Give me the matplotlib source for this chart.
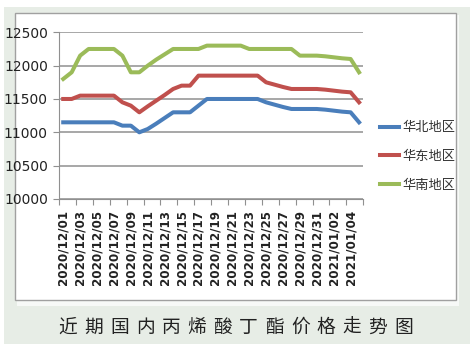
import matplotlib
matplotlib.use("Agg")
from matplotlib import pyplot as plt
from matplotlib.patches import Rectangle

plt.rcParams['font.family'] = ['Noto Sans CJK SC', 'DejaVu Sans']

# daily categories 2020/12/01 .. 2021/01/05
dates = ["2020/12/%02d" % d for d in range(1, 32)] + ["2021/01/%02d" % d for d in range(1, 6)]

north = [11150, 11150, 11150, 11150, 11150, 11150, 11150, 11100, 11100, 11000,
         11050, 11130, 11215, 11300, 11300, 11300, 11400, 11500, 11500, 11500,
         11500, 11500, 11500, 11500, 11450, 11415, 11380, 11350, 11350, 11350,
         11350, 11340, 11325, 11310, 11300, 11150]
east = [11500, 11500, 11550, 11550, 11550, 11550, 11550, 11450, 11400, 11300,
        11390, 11475, 11560, 11650, 11700, 11700, 11850, 11850, 11850, 11850,
        11850, 11850, 11850, 11850, 11750, 11715, 11680, 11650, 11650, 11650,
        11650, 11640, 11625, 11610, 11600, 11450]
south = [11800, 11900, 12150, 12250, 12250, 12250, 12250, 12150, 11900, 11900,
         12000, 12090, 12170, 12250, 12250, 12250, 12250, 12300, 12300, 12300,
         12300, 12300, 12250, 12250, 12250, 12250, 12250, 12250, 12150, 12150,
         12150, 12140, 12125, 12110, 12100, 11900]
series = ["华北地区", "华东地区", "华南地区"]
colors = ["#4a7ebb", "#c0504d", "#9bbb59"]
yticks = [10000, 10500, 11000, 11500, 12000, 12500]
title = "近期国内丙烯酸丁酯价格走势图"

W, H = 475, 354
fig = plt.figure(figsize=(W / 100, H / 100), dpi=100)
fig.patch.set_facecolor("white")

def box(x, y, w, h, **kw):
    # rectangle in pixel coords (top-left origin)
    fig.patches.append(Rectangle((x / W, 1 - (y + h) / H), w / W, h / H,
                                 transform=fig.transFigure, zorder=-5, **kw))

box(4, 7, 466, 337, facecolor="#e7ede6", edgecolor="none")
box(17, 15, 442, 291, facecolor="#f7f9f7", edgecolor="none")
box(15, 13, 441, 287, facecolor="white", edgecolor="#a0a0a0", linewidth=1)

ax = fig.add_axes([59 / W, 1 - 199 / H, (363.3 - 59) / W, (199 - 32.3) / H])
ax.set_facecolor("none")

x = list(range(len(dates)))
for name, vals, c in zip(series, [north, east, south], colors):
    ax.plot(x, vals, color=c, linewidth=2.9, label=name, solid_joinstyle="round")

ax.set_xlim(-0.5, len(dates) - 0.5)
ax.set_ylim(10000, 12500)
ax.set_yticks(yticks)
ax.set_yticklabels([str(v) for v in yticks], family=["Liberation Sans Narrow", "DejaVu Sans"],
                   fontsize=10, color="#222222")
ax.grid(axis="y", color="#a0a0a0", linewidth=1.3)
ax.set_axisbelow(True)

ax.set_xticks([i - 0.5 for i in range(0, len(dates) + 1, 2)])
ax.set_xticklabels([])
ax.set_xticks(x[::2], minor=True)
ax.set_xticklabels(dates[::2], minor=True, rotation=90, fontsize=8.6,
                   family=["DejaVu Sans"], color="#222222", fontweight="bold")
ax.tick_params(axis="x", which="major", length=4, color="#909090", direction="out")
ax.tick_params(axis="x", which="minor", length=0, pad=8)
ax.tick_params(axis="y", length=4, color="#909090", pad=4)

for s in ["top", "right"]:
    ax.spines[s].set_visible(False)
ax.spines["left"].set_color("#909090")
ax.spines["bottom"].set_color("#909090")

leg = ax.legend(loc="center left", bbox_to_anchor=(1.03, 0.255), frameon=False,
                handlelength=1.45, handletextpad=0.2, labelspacing=1.2,
                borderaxespad=0.2,
                prop={"family": ["Noto Sans CJK SC", "DejaVu Sans"], "size": 9.5})
for t in leg.get_texts():
    t.set_color("#333333")

# title, letter-spaced
for i, ch in enumerate(title):
    fig.text((68 + 25.8 * i) / W, 1 - 327 / H, ch, ha="center", va="center",
             fontsize=13.5, color="#222222")

fig.savefig("out.png", dpi=100)
